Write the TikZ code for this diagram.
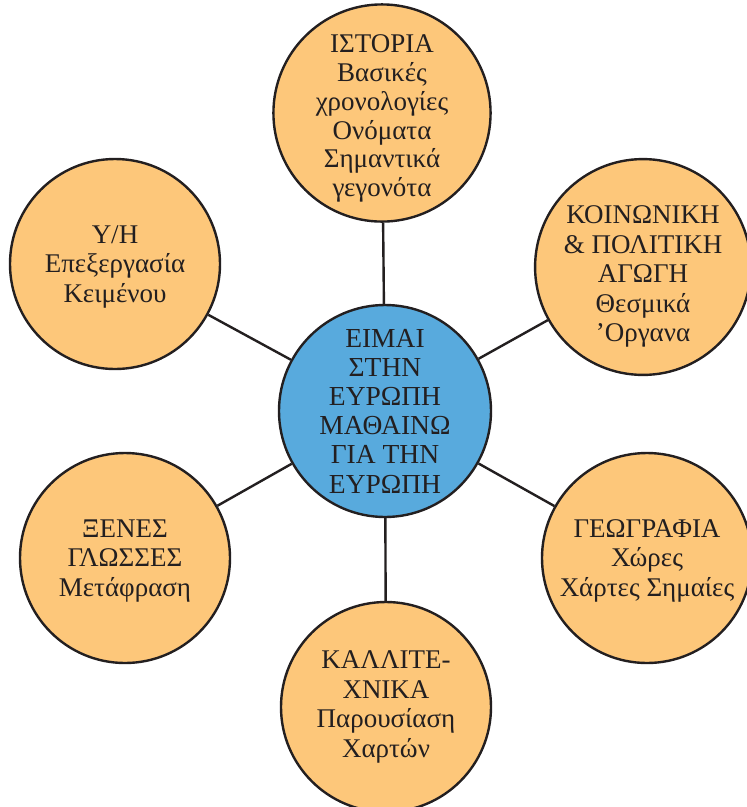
\documentclass[tikz,border=0pt]{standalone}
\usepackage{fontspec}
\setmainfont{Liberation Serif}
\definecolor{orangefill}{RGB}{253,199,122}
\definecolor{bluefill}{RGB}{88,170,221}
\definecolor{edgecol}{RGB}{35,31,32}
\newcommand{\shiftedlines}[2]{\raisebox{-#1}[\height][\depth]{\begin{tabular}{@{}c@{}}#2\end{tabular}}}
\begin{document}
\begin{tikzpicture}[x=1pt,y=-1pt,
  bubble/.style={circle,draw=edgecol,line width=2.4pt,fill=orangefill,
    minimum size=212pt,inner sep=0pt,align=center,text=edgecol,
    font=\fontsize{27}{29.5}\selectfont},
  hub/.style={bubble,fill=bluefill,font=\fontsize{27.5}{29.2}\selectfont},
  link/.style={draw=edgecol,line width=2.4pt}]
\useasboundingbox (0,0) rectangle (747,807);
\fill[white] (0,0) rectangle (747,807);
\node[hub] (c) at (385,411) {ΕΙΜΑΙ\\ΣΤΗΝ\\ΕΥΡΩΠΗ\\ΜΑΘΑΙΝΩ\\ΓΙΑ ΤΗΝ\\ΕΥΡΩΠΗ};
\node[bubble,font=\fontsize{27}{28.7}\selectfont] (t) at (382,113) {\shiftedlines{6pt}{ΙΣΤΟΡΙΑ\\Βασικές\\χρονολογίες\\Ονόματα\\Σημαντικά\\γεγονότα}};
\node[bubble,minimum size=210pt] (tl) at (115,264) {\shiftedlines{3pt}{Υ/Η\\Επεξεργασία\\Κειμένου}};
\node[bubble,minimum size=206pt] (tr) at (643,267) {\shiftedlines{10pt}{ΚΟΙΝΩΝΙΚΗ\\\&\ ΠΟΛΙΤΙΚΗ\\ΑΓΩΓΗ\\Θεσμικά\\’Οργανα}};
\node[bubble,minimum size=210pt] (bl) at (125,558) {\shiftedlines{3pt}{ΞΕΝΕΣ\\ΓΛΩΣΣΕΣ\\Μετάφραση}};
\node[bubble,minimum size=210pt] (br) at (647,558) {\shiftedlines{3pt}{ΓΕΩΓΡΑΦΙΑ\\Χώρες\\Χάρτες Σημαίες}};
\node[bubble,minimum size=210pt] (b) at (386,707) {ΚΑΛΛΙΤΕ-\\ΧΝΙΚΑ\\Παρουσίαση\\Χαρτών};
\draw[link] (c) -- (t);
\draw[link] (c) -- (tl);
\draw[link] (c) -- (tr);
\draw[link] (c) -- (bl);
\draw[link] (c) -- (br);
\draw[link] (c) -- (b);
\end{tikzpicture}
\end{document}
